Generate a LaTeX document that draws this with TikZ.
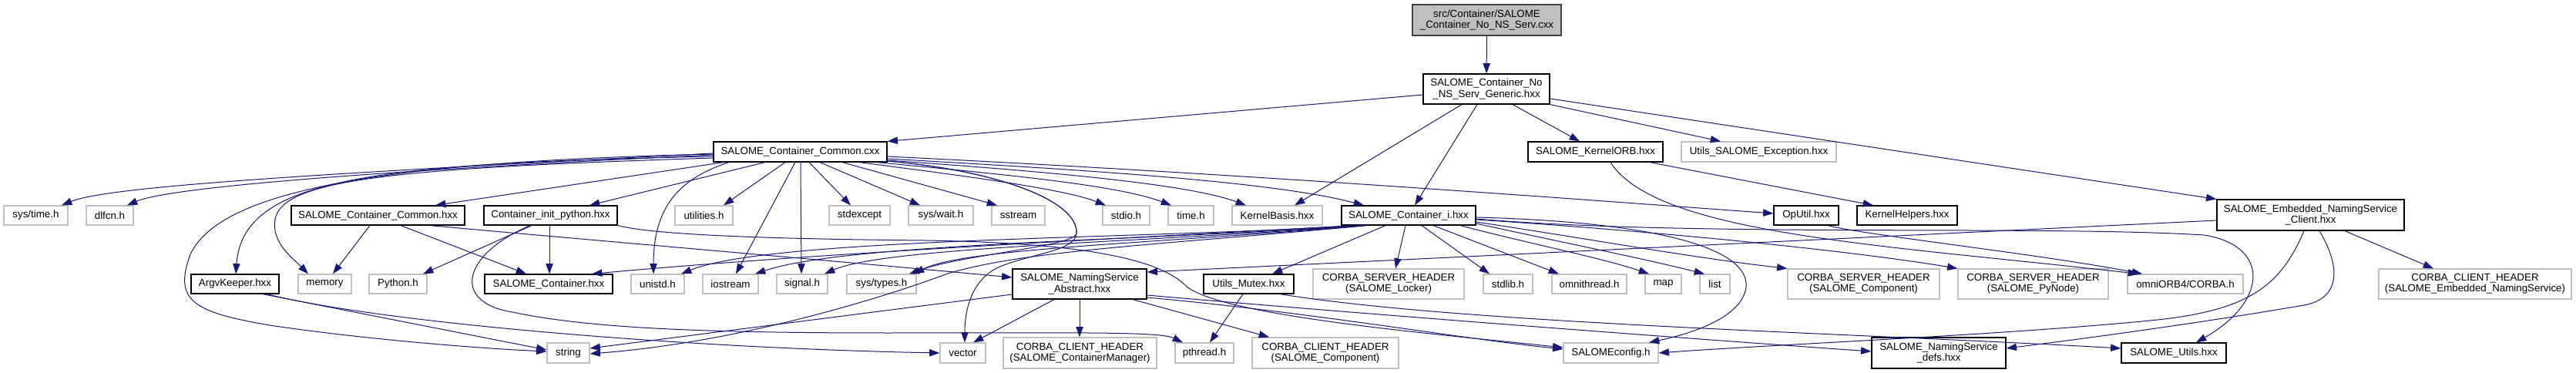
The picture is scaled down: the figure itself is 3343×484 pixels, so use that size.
\documentclass[tikz,border=0pt]{standalone}
\usepackage{fontspec}
\setmainfont{Liberation Sans}
\usetikzlibrary{arrows.meta}
\definecolor{edgec}{HTML}{191970}
\definecolor{gbord}{HTML}{BFBFBF}
\definecolor{gfill}{HTML}{BFBFBF}
\begin{document}
\begin{tikzpicture}[x=0.75pt,y=-0.75pt,
  font=\fontsize{10pt}{10.7pt}\selectfont,
  nb/.style={draw=black, line width=0.9pt, fill=white, inner sep=0pt, align=center},
  ng/.style={draw=gbord, line width=0.9pt, fill=white, inner sep=0pt, align=center},
  ntop/.style={draw=black!75, fill=gfill, line width=0.9pt, inner sep=0pt, align=center},
  sz/.style 2 args={minimum width=#1*0.75pt, minimum height=#2*0.75pt},
  e/.style={draw=edgec, line width=0.75pt, -{Triangle[length=10pt,width=7pt]}}]
\fill[white] (0,0) rectangle (3343,484);
\useasboundingbox (0,0) rectangle (3343,484);
% rank 0/1
\node[ntop, sz={193}{40}] (src) at (1929.5,26) {src/Container/SALOME\\\_Container\_No\_NS\_Serv.cxx};
\node[nb, sz={164}{39}] (gen) at (1929,115.5) {SALOME\_Container\_No\\\_NS\_Serv\_Generic.hxx};
\node[nb, sz={225}{26}] (ccxx) at (1038.5,197) {SALOME\_Container\_Common.cxx};
\node[nb, sz={175}{26}] (korb) at (2070.5,197) {SALOME\_KernelORB.hxx};
\node[ng, sz={201}{26}] (uexc) at (2282.5,197) {Utils\_SALOME\_Exception.hxx};
% rank 2
\node[ng, sz={83}{25}] (systime) at (46.5,279.5) {sys/time.h};
\node[ng, sz={61}{25}] (dlfcn) at (142.5,279.5) {dlfcn.h};
\node[nb, sz={225}{25}] (chxx) at (490.5,279.5) {SALOME\_Container\_Common.hxx};
\node[nb, sz={173}{25}] (cip) at (714.5,279.5) {Container\_init\_python.hxx};
\node[ng, sz={75}{25}] (util) at (913.5,279.5) {utilities.h};
\node[ng, sz={79}{25}] (stdexc) at (1115.5,279.5) {stdexcept};
\node[ng, sz={84}{25}] (syswait) at (1221,279.5) {sys/wait.h};
\node[ng, sz={69}{25}] (sstream) at (1321.5,279.5) {sstream};
\node[ng, sz={61}{25}] (stdio) at (1461.5,279.5) {stdio.h};
\node[ng, sz={59}{25}] (timeh) at (1545.5,279.5) {time.h};
\node[ng, sz={117}{25}] (kbasis) at (1657.5,279.5) {KernelBasis.hxx};
\node[nb, sz={174}{25}] (conti) at (1828,279.5) {SALOME\_Container\_i.hxx};
\node[nb, sz={84}{25}] (oputil) at (2344,279.5) {OpUtil.hxx};
\node[nb, sz={130}{25}] (khelp) at (2475,279.5) {KernelHelpers.hxx};
\node[nb, sz={243}{40}] (embed) at (2998.5,279) {SALOME\_Embedded\_NamingService\\\_Client.hxx};
% rank 3
\node[nb, sz={114}{25}] (argv) at (305,368.5) {ArgvKeeper.hxx};
\node[ng, sz={69}{25}] (memory) at (421.5,368.5) {memory};
\node[ng, sz={75}{25}] (python) at (516.5,368.5) {Python.h};
\node[nb, sz={166}{25}] (scont) at (712,368.5) {SALOME\_Container.hxx};
\node[ng, sz={69}{25}] (unistd) at (853.5,368.5) {unistd.h};
\node[ng, sz={72}{25}] (iostream) at (948,368.5) {iostream};
\node[ng, sz={66}{25}] (signal) at (1041,368.5) {signal.h};
\node[ng, sz={90}{25}] (systypes) at (1144,368.5) {sys/types.h};
\node[nb, sz={174}{39}] (abstr) at (1401,368.5) {SALOME\_NamingService\\\_Abstract.hxx};
\node[nb, sz={117}{25}] (mutex) at (1620.5,368.5) {Utils\_Mutex.hxx};
\node[ng, sz={196}{39}] (locker) at (1802,368.5) {CORBA\_SERVER\_HEADER\\(SALOME\_Locker)};
\node[ng, sz={64}{25}] (stdlib) at (1957,368.5) {stdlib.h};
\node[ng, sz={97}{25}] (omnith) at (2062.5,368.5) {omnithread.h};
\node[ng, sz={47}{25}] (map) at (2158.5,368.5) {map};
\node[ng, sz={39}{25}] (list) at (2225.5,368.5) {list};
\node[ng, sz={197}{39}] (srvcomp) at (2418.5,368.5) {CORBA\_SERVER\_HEADER\\(SALOME\_Component)};
\node[ng, sz={195}{39}] (pynode) at (2638.5,368.5) {CORBA\_SERVER\_HEADER\\(SALOME\_PyNode)};
\node[ng, sz={150}{25}] (omniorb) at (2836,368.5) {omniORB4/CORBA.h};
\node[ng, sz={250}{39}] (cliemb) at (3212,368.5) {CORBA\_CLIENT\_HEADER\\(SALOME\_Embedded\_NamingService)};
% rank 4
\node[ng, sz={55}{26}] (string) at (737.5,458) {string};
\node[ng, sz={59}{26}] (vector) at (1249.5,458) {vector};
\node[ng, sz={199}{40}] (climgr) at (1401.5,458) {CORBA\_CLIENT\_HEADER\\(SALOME\_ContainerManager)};
\node[ng, sz={76}{26}] (pthread) at (1563,458) {pthread.h};
\node[ng, sz={190}{40}] (clicomp) at (1720,458) {CORBA\_CLIENT\_HEADER\\(SALOME\_Component)};
\node[ng, sz={123}{26}] (config) at (2090.5,458) {SALOMEconfig.h};
\node[nb, sz={174}{40}] (defs) at (2516,458) {SALOME\_NamingService\\\_defs.hxx};
\node[nb, sz={136}{26}] (sutils) at (2821,458) {SALOME\_Utils.hxx};
% edges from the top
\draw[e] (src) -- (gen);
\draw[e] (gen.west |- 0,123) -- (ccxx.north east);
\draw[e] (gen.south -| 1897,0) -- (kbasis.north -| 1680,0);
\draw[e] (gen.south -| 1917,0) -- (conti.north -| 1836,0);
\draw[e] (gen.south -| 1963,0) -- (korb.north -| 2050,0);
\draw[e] (gen.south east) -- (uexc.north -| 2233,0);
\draw[e] (gen.east |- 0,128) -- (embed.north west);
% SALOME_Container_Common.cxx
\draw[e] (ccxx.west |- 0,199) .. controls (400,226) and (140,242) .. (systime.north -| 80,0);
\draw[e] (ccxx.west |- 0,201) .. controls (480,222) and (220,243) .. (dlfcn.north -| 165,0);
\draw[e] (ccxx.west |- 0,203) .. controls (480,212) and (315,232) .. (argv.north -| 306,0);
\draw[e] (ccxx.west |- 0,205) .. controls (520,218) and (365,232) .. (357,285) .. controls (352,315) and (380,335) .. (memory.north -| 400,0);
\draw[e] (ccxx.west |- 0,200) .. controls (480,210) and (285,250) .. (247,330) .. controls (225,390) and (250,405) .. (350,422) .. controls (470,440) and (620,452) .. (string.west |- 0,456);
\draw[e] (ccxx.south -| 939,0) -- (chxx.north -| 565,0);
\draw[e] (ccxx.south -| 993,0) -- (cip.north -| 765,0);
\draw[e] (ccxx.south -| 946,0) .. controls (880,232) and (848,270) .. (unistd.north -| 848,0);
\draw[e] (ccxx.south -| 1019,0) -- (util.north -| 939,0);
\draw[e] (ccxx.south -| 1032,0) -- (iostream.north -| 955,0);
\draw[e] (ccxx.south -| 1039,0) -- (signal.north -| 1040,0);
\draw[e] (ccxx.south -| 1050,0) -- (stdexc.north -| 1104,0);
\draw[e] (ccxx.south -| 1064,0) -- (syswait.north -| 1194,0);
\draw[e] (ccxx.south -| 1093,0) -- (sstream.north -| 1294,0);
\draw[e] (ccxx.south -| 1115,0) .. controls (1250,228) and (1380,245) .. (stdio.north -| 1435,0);
\draw[e] (ccxx.south -| 1138,0) .. controls (1300,226) and (1450,240) .. (timeh.north -| 1520,0);
\draw[e] (ccxx.east |- 0,208) .. controls (1350,222) and (1540,238) .. (kbasis.north -| 1617,0);
\draw[e] (ccxx.east |- 0,206) .. controls (1400,220) and (1650,235) .. (conti.north -| 1770,0);
\draw[e] (ccxx.east |- 0,203) .. controls (1600,225) and (2000,255) .. (oputil.west |- 0,277);
\draw[e] (ccxx.east |- 0,209) .. controls (1300,222) and (1400,262) .. (1397,303) .. controls (1395,325) and (1345,328) .. (1300,345) .. controls (1262,360) and (1252,400) .. (vector.north -| 1252,0);
\draw[e] (ccxx.east |- 0,209) .. controls (1300,222) and (1400,262) .. (1397,303) .. controls (1394,320) and (1250,330) .. (systypes.north -| 1180,0);
% SALOME_Container_Common.hxx
\draw[e] (chxx.south -| 480,0) -- (memory.north -| 432,0);
\draw[e] (chxx.south -| 520,0) -- (scont.north -| 683,0);
\draw[e] (chxx.south -| 558,0) .. controls (750,310) and (1100,340) .. (abstr.west |- 0,360);
% Container_init_python.hxx
\draw[e] (cip.south -| 690,0) -- (python.north -| 549,0);
\draw[e] (cip.south -| 713,0) -- (scont.north -| 713,0);
\draw[e] (cip.south -| 688,0) .. controls (600,330) and (585,392) .. (665,405) .. controls (760,425) and (900,432) .. (1150,432) .. controls (1400,432) and (1505,430) .. (pthread.north -| 1535,0);
\draw[e] (cip.south east) .. controls (850,305) and (1000,310) .. (1200,312) .. controls (1400,315) and (1505,335) .. (1540,372) .. controls (1590,410) and (1850,432) .. (config.west |- 0,451);
% ArgvKeeper.hxx
\draw[e] (argv.south -| 341,0) -- (string.west |- 0,454);
\draw[e] (argv.south -| 346,0) .. controls (500,420) and (900,452) .. (vector.west |- 0,458);
% SALOME_Container_i.hxx
\draw[e] (conti.south -| 1755,0) .. controls (1550,305) and (1100,325) .. (scont.north -| 768,0);
\draw[e] (conti.south -| 1760,0) .. controls (1500,310) and (1000,308) .. (unistd.north -| 884,0);
\draw[e] (conti.south -| 1765,0) .. controls (1500,312) and (1100,315) .. (iostream.north -| 980,0);
\draw[e] (conti.south -| 1768,0) .. controls (1500,314) and (1150,320) .. (signal.north -| 1070,0);
\draw[e] (conti.south -| 1772,0) .. controls (1500,316) and (1250,322) .. (systypes.north -| 1186,0);
\draw[e] (conti.south -| 1775,0) .. controls (1500,318) and (1330,325) .. (1230,355) .. controls (1130,392) and (950,445) .. (string.east |- 0,459);
\draw[e] (conti.south -| 1798,0) -- (mutex.north -| 1651,0);
\draw[e] (conti.south -| 1824,0) -- (locker.north -| 1811,0);
\draw[e] (conti.south -| 1845,0) -- (stdlib.north -| 1933,0);
\draw[e] (conti.south -| 1860,0) -- (omnith.north -| 2023,0);
\draw[e] (conti.south -| 1895,0) .. controls (1980,315) and (2080,335) .. (map.north -| 2140,0);
\draw[e] (conti.east |- 0,290) .. controls (2030,315) and (2130,335) .. (list.north -| 2212,0);
\draw[e] (conti.east |- 0,288) .. controls (2050,308) and (2200,335) .. (srvcomp.north west);
\draw[e] (conti.east |- 0,285) .. controls (2150,300) and (2400,325) .. (pynode.north west);
\draw[e] (conti.east |- 0,282) .. controls (2150,288) and (2270,322) .. (2266,372) .. controls (2262,410) and (2200,432) .. (config.north -| 2140,0);
\draw[e] (conti.east |- 0,284) .. controls (2200,308) and (2650,292) .. (2860,305) .. controls (2945,318) and (2945,390) .. (sutils.north -| 2850,0);
% SALOME_NamingService_Abstract.hxx
\draw[e] (abstr.west |- 0,382) -- (string.east |- 0,452);
\draw[e] (abstr.south -| 1368,0) -- (vector.north -| 1263,0);
\draw[e] (abstr.south -| 1401,0) -- (climgr.north -| 1401,0);
\draw[e] (abstr.south -| 1470,0) -- (clicomp.north -| 1647,0);
\draw[e] (abstr.east |- 0,386) .. controls (1700,405) and (1900,440) .. (config.west |- 0,453);
\draw[e] (abstr.east |- 0,383) .. controls (1800,410) and (2200,440) .. (defs.west |- 0,456);
% Utils_Mutex.hxx
\draw[e] (mutex.south -| 1613,0) -- (pthread.north -| 1570,0);
\draw[e] (mutex.south -| 1661,0) .. controls (1900,420) and (2400,432) .. (sutils.west |- 0,452);
% SALOME_KernelORB.hxx, OpUtil.hxx
\draw[e] (korb.south -| 2141,0) -- (khelp.north -| 2431,0);
\draw[e] (korb.south -| 2090,0) .. controls (2150,305) and (2450,318) .. (omniorb.north -| 2775,0);
\draw[e] (oputil.south -| 2372,0) .. controls (2420,305) and (2650,330) .. (omniorb.north -| 2780,0);
% SALOME_Embedded_NamingService_Client.hxx
\draw[e] (embed.west |- 0,286) -- (abstr.east |- 0,353);
\draw[e] (embed.south -| 2990,0) .. controls (2960,370) and (2920,402) .. (2800,415) .. controls (2600,435) and (2300,447) .. (config.east |- 0,458);
\draw[e] (embed.south -| 3010,0) .. controls (3040,350) and (3035,388) .. (2990,396) .. controls (2850,420) and (2700,440) .. (defs.east |- 0,452);
\draw[e] (embed.south -| 3043,0) -- (cliemb.north -| 3158,0);
\end{tikzpicture}
\end{document}
